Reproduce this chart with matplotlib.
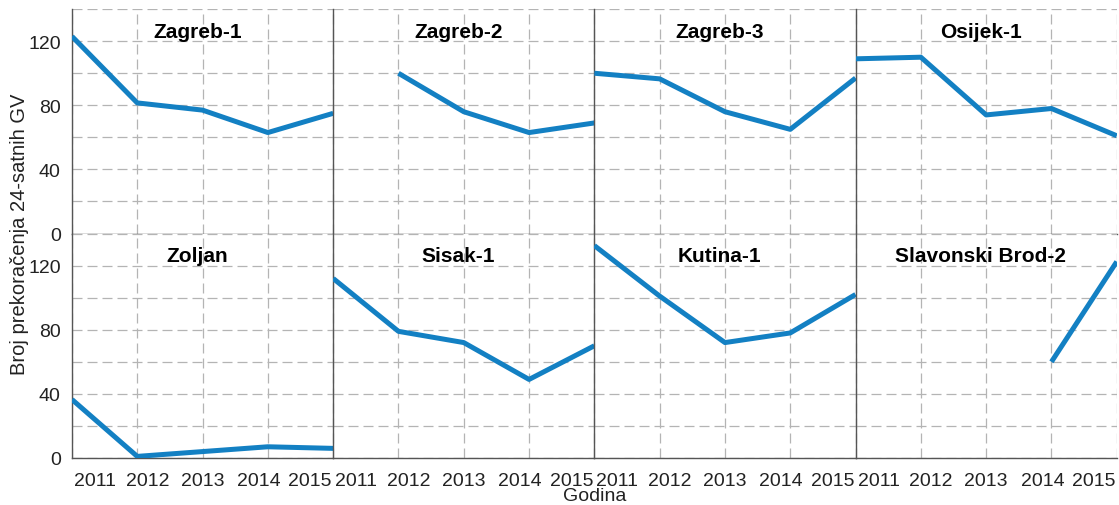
import numpy as np
import matplotlib.pyplot as plt
from matplotlib.transforms import ScaledTranslation

plt.rcParams['font.family'] = ['Liberation Sans', 'DejaVu Sans']

years = [2011, 2012, 2013, 2014, 2015]
stations = ["Zagreb-1", "Zagreb-2", "Zagreb-3", "Osijek-1",
            "Zoljan", "Sisak-1", "Kutina-1", "Slavonski Brod-2"]
nan = np.nan
values = [
    [123, 81.5, 77, 63, 75],      # Zagreb-1
    [nan, 100, 76, 63, 69],       # Zagreb-2
    [100, 96.5, 76, 65, 97],      # Zagreb-3
    [109, 110, 74, 78, 61],       # Osijek-1
    [36.5, 1, 4, 7, 6],           # Zoljan
    [112, 79, 72, 49, 70],        # Sisak-1
    [132.5, 101, 72, 78, 102],    # Kutina-1
    [nan, nan, nan, 60, 122.5],   # Slavonski Brod-2
]

line_color = '#1380c3'
grid_color = '#b4b4b4'
spine_color = '#555555'

fig, axes = plt.subplots(2, 4, figsize=(11.19, 5.06), dpi=100, sharex=True, sharey=True)
fig.subplots_adjust(left=0.0643, right=0.998, top=0.980, bottom=0.0929, wspace=0, hspace=0)

# label shifts (px) so the labels stay inside each panel
shifts = [23, 10, 0, -9, -23]

for i, ax in enumerate(axes.flat):
    ax.plot(years, values[i], color=line_color, lw=3.6, solid_capstyle='butt', zorder=3)
    ax.set_xlim(2011, 2015)
    ax.set_ylim(0, 140)
    ax.set_xticks(years)
    ax.set_yticks([0, 40, 80, 120])
    ax.set_yticks([20, 60, 100, 140], minor=True)
    ax.grid(True, which='both', color=grid_color, ls=(0, (8, 4)), lw=0.9)
    ax.set_axisbelow(True)
    for s in ['top', 'right']:
        ax.spines[s].set_visible(False)
    for s in ['left', 'bottom']:
        ax.spines[s].set_color(spine_color)
        ax.spines[s].set_linewidth(1.0)
        ax.spines[s].set_zorder(2)
    ax.tick_params(which='both', length=0, labelsize=14, colors='#222222')
    ax.tick_params(axis='x', pad=10)
    ax.tick_params(axis='y', pad=8)
    ax.text(0.48, 0.90, stations[i], transform=ax.transAxes, ha='center', va='center',
            fontsize=15, fontweight='bold', color='black')

for ax in axes[1]:
    for lab, dx in zip(ax.get_xticklabels(), shifts):
        lab.set_transform(lab.get_transform() + ScaledTranslation(dx / 100, 0, fig.dpi_scale_trans))

fig.text(0.017, 0.5375, "Broj prekoračenja 24-satnih GV", rotation=90, ha='center', va='center',
         fontsize=14.5, color='#222222')
fig.text(0.531, 0.019, "Godina", ha='center', va='center', fontsize=14, color='#222222')

fig.savefig('out.png', dpi=100)
